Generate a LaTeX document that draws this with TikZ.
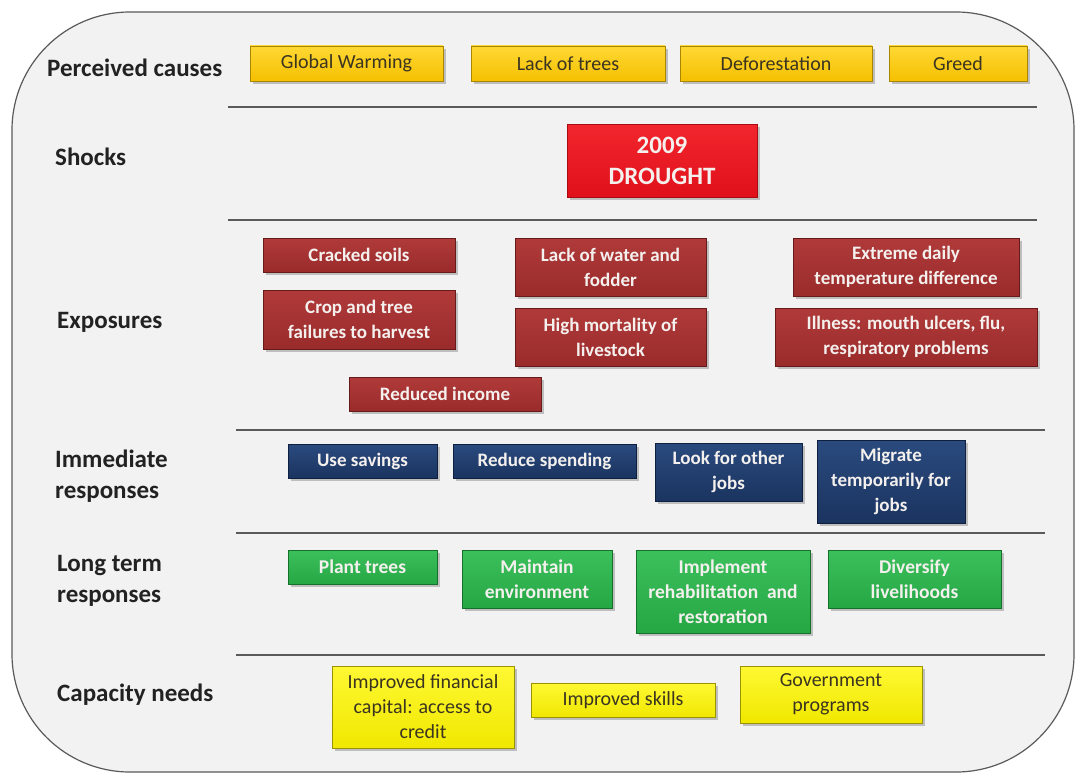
\documentclass[tikz,border=0pt]{standalone}
\usepackage{fontspec}
\setmainfont{Carlito}
\usetikzlibrary{shadows}
\definecolor{paper}{HTML}{F2F2F2}
\definecolor{frameline}{HTML}{5A5A5A}
\definecolor{labeltext}{HTML}{222222}
\definecolor{goldtop}{HTML}{FFD835}
\definecolor{goldbot}{HTML}{F5C000}
\definecolor{goldedge}{HTML}{A88600}
\definecolor{darktext}{HTML}{3A3420}
\definecolor{redtop}{HTML}{F2262E}
\definecolor{redbot}{HTML}{E0101A}
\definecolor{rededge}{HTML}{A80C12}
\definecolor{maroontop}{HTML}{B03A3A}
\definecolor{maroonbot}{HTML}{9A2B2B}
\definecolor{maroonedge}{HTML}{661A1A}
\definecolor{navytop}{HTML}{2A4A7E}
\definecolor{navybot}{HTML}{1B3460}
\definecolor{navyedge}{HTML}{0F1F40}
\definecolor{greentop}{HTML}{3CC05C}
\definecolor{greenbot}{HTML}{25A744}
\definecolor{greenedge}{HTML}{15702A}
\definecolor{yellowtop}{HTML}{FFF833}
\definecolor{yellowbot}{HTML}{F0E800}
\definecolor{yellowedge}{HTML}{9A9200}
\definecolor{lighttext}{HTML}{F4F0EE}
\begin{document}
\begin{tikzpicture}[x=1pt,y=-1pt,
  panel/.style={rectangle, inner sep=2pt, align=center, line width=0.8pt,
    drop shadow={shadow xshift=2.5pt,shadow yshift=-3pt,opacity=0.45}},
  cause/.style={panel, draw=goldedge, top color=goldtop, bottom color=goldbot,
    text=darktext, font=\fontsize{20}{24}\selectfont},
  shock/.style={panel, draw=rededge, top color=redtop, bottom color=redbot,
    text=lighttext, font=\bfseries\fontsize{25}{31}\selectfont},
  exposure/.style={panel, draw=maroonedge, top color=maroontop, bottom color=maroonbot,
    text=lighttext, font=\bfseries\fontsize{19}{25}\selectfont},
  immediate/.style={panel, draw=navyedge, top color=navytop, bottom color=navybot,
    text=lighttext, font=\bfseries\fontsize{19}{25}\selectfont},
  longterm/.style={panel, draw=greenedge, top color=greentop, bottom color=greenbot,
    text=lighttext, font=\bfseries\fontsize{19.5}{25}\selectfont},
  capacity/.style={panel, draw=yellowedge, top color=yellowtop, bottom color=yellowbot,
    text=darktext, font=\fontsize{20}{25}\selectfont},
  rowlabel/.style={anchor=west, align=left, text=labeltext, inner sep=0pt,
    font=\bfseries\fontsize{25}{31}\selectfont},
  divider/.style={draw=frameline, line width=1.6pt}
]
\useasboundingbox (0,0) rectangle (1075,773);
\fill[white] (0,0) rectangle (1075,773);
% outer rounded frame
\draw[frameline, fill=paper, line width=1.2pt, rounded corners=118pt]
  (12,12) rectangle (1074,772);

% row labels
\node[rowlabel] (lcause) at (47,68) {Perceived causes};
\node[rowlabel] (lshock) at (55,157) {Shocks};
\node[rowlabel] (lexpo) at (57,322) {Exposures};
\node[rowlabel] (limm) at (55,476) {Immediate\\responses};
\node[rowlabel] (llong) at (57,581) {Long term\\responses};
\node[rowlabel] (lcap) at (57,695) {Capacity needs};

% dividers between the rows
\draw[divider] (228,107) -- (1037,107);
\draw[divider] (228,220) -- (1037,220);
\draw[divider] (236,430) -- (1045,430);
\draw[divider] (236,533) -- (1045,533);
\draw[divider] (236,655) -- (1045,655);

% perceived causes
\node[cause, minimum width=193pt, minimum height=35pt] (gw) at (346.5,63.5) {Global Warming};
\node[cause, minimum width=194pt, minimum height=35pt] (lt) at (568,63.5) {Lack of trees};
\node[cause, minimum width=192pt, minimum height=35pt] (df) at (776,63.5) {Deforestation};
\node[cause, minimum width=138pt, minimum height=35pt] (gr) at (958,63.5) {Greed};

% shock
\node[shock, minimum width=190pt, minimum height=73pt] (dr) at (662,160.5) {2009\\DROUGHT};

% exposures
\node[exposure, minimum width=192pt, minimum height=34pt] (cs) at (359,255) {Cracked soils};
\node[exposure, minimum width=192pt, minimum height=59pt] (ct) at (359,319.5) {Crop and tree\\failures to harvest};
\node[exposure, minimum width=191pt, minimum height=58pt] (lw) at (610.5,267) {Lack of water and\\fodder};
\node[exposure, minimum width=191pt, minimum height=58pt] (hm) at (610.5,337) {High mortality of\\livestock};
\node[exposure, minimum width=192pt, minimum height=34pt] (ri) at (445,394) {Reduced income};
\node[exposure, minimum width=226pt, minimum height=58pt] (ed) at (906,267) {Extreme daily\\temperature difference};
\node[exposure, minimum width=262pt, minimum height=58pt] (il) at (906,337) {Illness: mouth ulcers, flu,\\respiratory problems};

% immediate responses
\node[immediate, minimum width=149pt, minimum height=34pt] (us) at (362.5,461) {Use savings};
\node[immediate, minimum width=183pt, minimum height=34pt] (rs) at (544.5,461) {Reduce spending};
\node[immediate, minimum width=147pt, minimum height=58pt] (lo) at (728.5,472) {Look for other\\jobs};
\node[immediate, minimum width=148pt, minimum height=83pt] (mt) at (891,481.5) {Migrate\\temporarily for\\jobs};

% long term responses
\node[longterm, minimum width=149pt, minimum height=34pt] (pt) at (362.5,567) {Plant trees};
\node[longterm, minimum width=150pt, minimum height=58pt] (me) at (537,579) {Maintain\\environment};
\node[longterm, minimum width=174pt, minimum height=83pt] (ir) at (723,591.5) {Implement\\rehabilitation\ \ and\\restoration};
\node[longterm, minimum width=173pt, minimum height=58pt] (dl) at (914.5,579) {Diversify\\livelihoods};

% capacity needs
\node[capacity, minimum width=182pt, minimum height=82pt] (fc) at (423,707) {Improved financial\\capital: access to\\credit};
\node[capacity, minimum width=184pt, minimum height=34pt] (sk) at (623,700) {Improved skills};
\node[capacity, minimum width=182pt, minimum height=57pt] (gp) at (831,694.5) {Government\\programs};
\end{tikzpicture}
\end{document}
